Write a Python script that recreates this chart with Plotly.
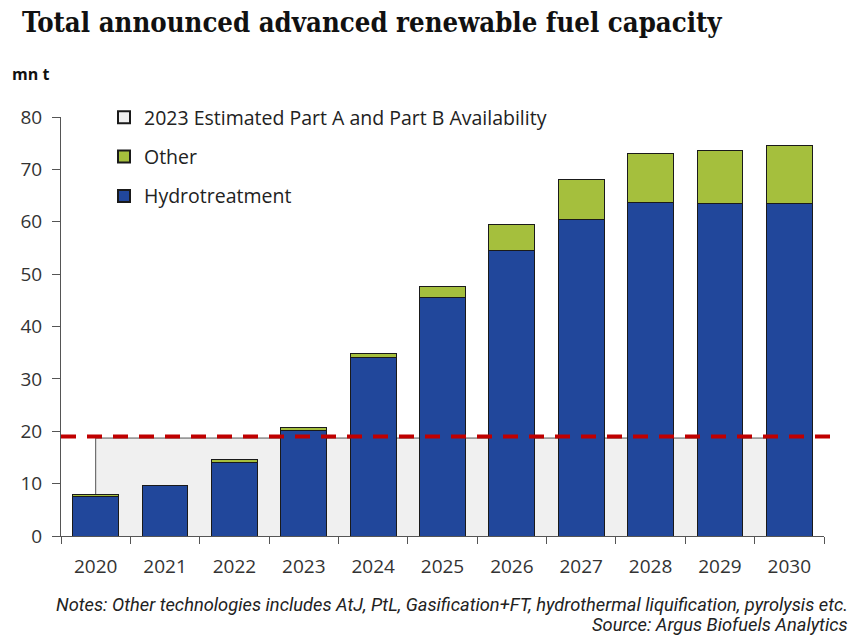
import plotly.graph_objects as go

# Announced capacity, million tonnes
years = ["2020", "2021", "2022", "2023", "2024", "2025", "2026", "2027", "2028", "2029", "2030"]
hydrotreatment = [7.6, 9.6, 14.0, 20.1, 34.0, 45.6, 54.6, 60.5, 63.6, 63.4, 63.4]
other = [0.4, 0.1, 0.6, 0.6, 0.9, 2.1, 4.8, 7.5, 9.5, 10.3, 11.2]
availability_2023 = [18.7] * len(years)
availability_line = 19.0
y_ticks = [0, 10, 20, 30, 40, 50, 60, 70, 80]

W, H = 853, 636
ML, MR, MT, MB = 61, 29, 117, 100
PW, PH = W - ML - MR, H - MT - MB

def px_x(px):
    return (px - ML) / PW

def px_y(py):
    return (H - MB - py) / PH

xs = list(range(len(years)))
FONT = "Open Sans, DejaVu Sans, sans-serif"
EDGE = "#1a1a1a"

fig = go.Figure()

# Estimated availability band (area from first to last category), behind the bars
fig.add_trace(go.Scatter(
    x=xs, y=availability_2023, mode="lines", fill="tozeroy",
    fillcolor="#f0f0f0", line=dict(color="#555555", width=1),
    showlegend=False, hoverinfo="skip",
))
fig.add_trace(go.Scatter(
    x=[xs[0], xs[0]], y=[0, availability_2023[0]], mode="lines",
    line=dict(color="#555555", width=1), showlegend=False, hoverinfo="skip",
))

# Legend swatch for the band
fig.add_trace(go.Bar(
    x=[None], y=[None], yaxis="y2", name="2023 Estimated Part A and Part B Availability",
    marker=dict(color="#f0f0f0", line=dict(color=EDGE, width=1)), legendrank=1,
    legendgroup="a",
))

# Stacked capacity bars on an overlaid axis so they sit above the band
fig.add_trace(go.Bar(
    x=xs, y=hydrotreatment, yaxis="y2", name="Hydrotreatment", width=0.66,
    marker=dict(color="#21479b", line=dict(color=EDGE, width=1)),
    legendrank=3, legendgroup="c",
))
fig.add_trace(go.Bar(
    x=xs, y=other, yaxis="y2", name="Other", width=0.66,
    marker=dict(color="#a5bf3d", line=dict(color=EDGE, width=1)),
    legendrank=2, legendgroup="b",
))

# Dashed availability reference line
fig.add_shape(
    type="line", xref="paper", yref="y", x0=0, x1=px_x(832),
    y0=availability_line, y1=availability_line,
    line=dict(color="#c00000", width=4, dash="15px,11px"), layer="above",
)

fig.update_layout(
    width=W, height=H, barmode="stack",
    margin=dict(l=ML, r=MR, t=MT, b=MB),
    paper_bgcolor="white", plot_bgcolor="rgba(0,0,0,0)",
    font=dict(family=FONT, size=19, color="#333333"),
    title=dict(
        text="<b>Total announced advanced renewable fuel capacity</b>",
        xref="container", yref="container", x=22 / W, xanchor="left",
        y=1 - 22 / H, yanchor="middle",
        font=dict(family="DejaVu Serif Condensed, Liberation Serif, serif", size=27.3, color="#111111"),
    ),
    legend=dict(
        x=px_x(104), y=px_y(98), xanchor="left", yanchor="top",
        bgcolor="rgba(0,0,0,0)", font=dict(size=19.5, color="#222222"),
        tracegroupgap=11, itemsizing="constant",
    ),
    xaxis=dict(
        range=[-0.5, 10.5], tickvals=xs, ticktext=years, ticks="",
        showgrid=False, zeroline=False, showline=True, linecolor="#555555", linewidth=1,
        minor=dict(ticks="outside", tick0=0.5, dtick=1, ticklen=7, tickcolor="#555555", showgrid=False),
        ticklabelstandoff=13, fixedrange=True,
    ),
    yaxis=dict(
        range=[0, 80], tickvals=y_ticks, ticks="outside", ticklen=8,
        tickcolor="#555555", showgrid=False, zeroline=False,
        showline=True, linecolor="#555555", linewidth=1, ticklabelstandoff=6,
    ),
    yaxis2=dict(
        range=[0, 80], overlaying="y", visible=False, showgrid=False, zeroline=False,
    ),
    showlegend=True,
)

fig.add_annotation(
    text="<b>mn t</b>", xref="paper", yref="paper", x=px_x(10), y=px_y(74),
    xanchor="left", yanchor="middle", showarrow=False,
    font=dict(family=FONT, size=16, color="#111111"),
)
NOTE_FONT = dict(family="Roboto, sans-serif", size=18.3, color="#222222")
fig.add_annotation(
    text="<i>Notes: Other technologies includes AtJ, PtL, Gasification+FT, hydrothermal liquification, pyrolysis etc.</i>",
    xref="paper", yref="paper", x=px_x(850), y=px_y(604),
    xanchor="right", yanchor="middle", showarrow=False, font=NOTE_FONT,
)
fig.add_annotation(
    text="<i>Source: Argus Biofuels Analytics</i>",
    xref="paper", yref="paper", x=px_x(850), y=px_y(624),
    xanchor="right", yanchor="middle", showarrow=False, font=NOTE_FONT,
)

fig.write_html("out.html")
